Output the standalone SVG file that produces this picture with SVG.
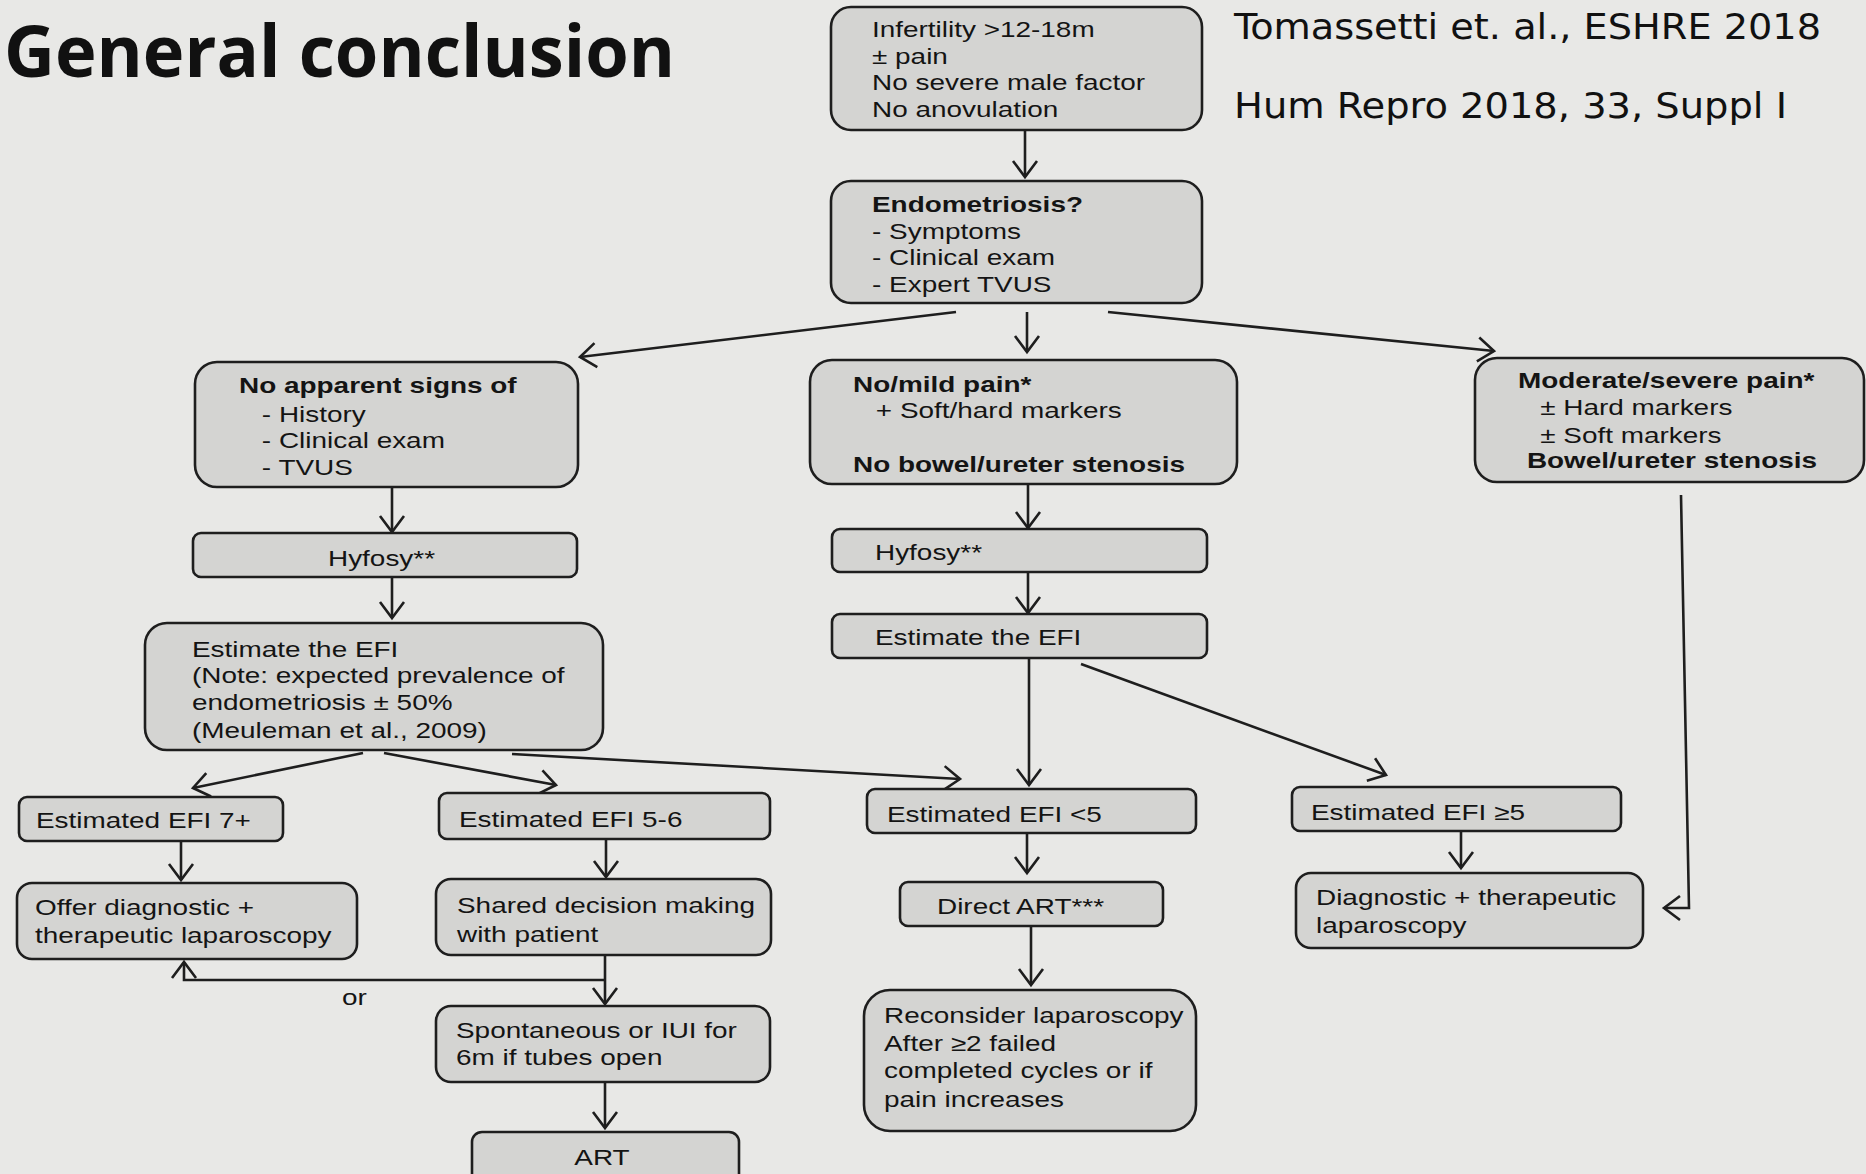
<svg xmlns="http://www.w3.org/2000/svg" width="1866" height="1174" viewBox="0 0 1866 1174">
<style>
.bg{fill:#e8e8e6}
.box{fill:#d4d4d2;stroke:#1e1e1e;stroke-width:2.6}
.t{font-family:"Liberation Sans",Arial,sans-serif;font-size:22px;fill:#141414}
.b{font-weight:bold}
.cn{fill:none;stroke:#1e1e1e;stroke-width:2.6}
.title{font-family:"Open Sans","Liberation Sans",sans-serif;font-weight:bold;font-size:72px;fill:#111}
.cite{font-family:"DejaVu Sans Condensed","DejaVu Sans",sans-serif;font-size:36px;fill:#111}
</style>
<defs>
<marker id="ah" markerUnits="userSpaceOnUse" viewBox="-3 -3 22 30" markerWidth="22" markerHeight="30" refX="16" refY="12" orient="auto" overflow="visible">
<path d="M0,0 L16,12 L0,24" fill="none" stroke="#1e1e1e" stroke-width="2.6" stroke-linejoin="miter"/>
</marker>
</defs>
<rect class="bg" x="0" y="0" width="1866" height="1174"/>

<text class="title" x="4" y="77" textLength="671" lengthAdjust="spacingAndGlyphs">General conclusion</text>
<text class="cite" x="1234" y="39" textLength="587" lengthAdjust="spacingAndGlyphs">Tomassetti et. al., ESHRE 2018</text>
<text class="cite" x="1234" y="118" textLength="553" lengthAdjust="spacingAndGlyphs">Hum Repro 2018, 33, Suppl I</text>

<g id="connectors">
<path class="cn" d="M1025,131 L1025,177" marker-end="url(#ah)"/>
<path class="cn" d="M956,312 L580,357" marker-end="url(#ah)"/>
<path class="cn" d="M1027,312 L1027,352" marker-end="url(#ah)"/>
<path class="cn" d="M1108,312 L1494,351" marker-end="url(#ah)"/>
<path class="cn" d="M392,487 L392,532" marker-end="url(#ah)"/>
<path class="cn" d="M392,577 L392,618" marker-end="url(#ah)"/>
<path class="cn" d="M1028,484 L1028,528" marker-end="url(#ah)"/>
<path class="cn" d="M1028,572 L1028,613" marker-end="url(#ah)"/>
<path class="cn" d="M1029,658 L1029,785" marker-end="url(#ah)"/>
<path class="cn" d="M1081,664 L1386,775" marker-end="url(#ah)"/>
<path class="cn" d="M363,753 L193,788" marker-end="url(#ah)"/>
<path class="cn" d="M384,753 L556,785" marker-end="url(#ah)"/>
<path class="cn" d="M512,754 L960,779" marker-end="url(#ah)"/>
<path class="cn" d="M181,841 L181,880" marker-end="url(#ah)"/>
<path class="cn" d="M606,839 L606,877" marker-end="url(#ah)"/>
<path class="cn" d="M605,955 L605,1004" marker-end="url(#ah)"/>
<path class="cn" d="M605,980 L184,980 L184,962" marker-end="url(#ah)"/>
<path class="cn" d="M605,1082 L605,1128" marker-end="url(#ah)"/>
<path class="cn" d="M1027,833 L1027,873" marker-end="url(#ah)"/>
<path class="cn" d="M1031,926 L1031,985" marker-end="url(#ah)"/>
<path class="cn" d="M1461,831 L1461,868" marker-end="url(#ah)"/>
<path class="cn" d="M1681,495 L1689,908 L1664,908" marker-end="url(#ah)"/>
<text class="t" transform="translate(342,1005) scale(1.27,1)">or</text>
</g>

<g id="n-infertility">
<rect class="box" x="831" y="7" width="371" height="123" rx="20"/>
<text class="t" transform="translate(872,37) scale(1.27,1)"><tspan x="0" y="0">Infertility &gt;12-18m</tspan><tspan x="0" y="27">± pain</tspan><tspan x="0" y="53">No severe male factor</tspan><tspan x="0" y="80">No anovulation</tspan></text>
</g>

<g id="n-endometriosis">
<rect class="box" x="831" y="181" width="371" height="122" rx="20"/>
<text class="t" transform="translate(872,212) scale(1.27,1)"><tspan x="0" y="0" class="b">Endometriosis?</tspan><tspan x="0" y="27">- Symptoms</tspan><tspan x="0" y="53">- Clinical exam</tspan><tspan x="0" y="80">- Expert TVUS</tspan></text>
</g>

<g id="n-noapparent">
<rect class="box" x="195" y="362" width="383" height="125" rx="22"/>
<text class="t" transform="translate(239,393) scale(1.27,1)"><tspan x="0" y="0" class="b">No apparent signs of</tspan><tspan x="18" y="29">- History</tspan><tspan x="18" y="55">- Clinical exam</tspan><tspan x="18" y="82">- TVUS</tspan></text>
</g>

<g id="n-nomild">
<rect class="box" x="810" y="360" width="427" height="124" rx="22"/>
<text class="t" transform="translate(853,392) scale(1.27,1)"><tspan x="0" y="0" class="b">No/mild pain*</tspan><tspan x="18" y="26">+ Soft/hard markers</tspan><tspan x="0" y="80" class="b">No bowel/ureter stenosis</tspan></text>
</g>

<g id="n-moderate">
<rect class="box" x="1475" y="358" width="389" height="124" rx="22"/>
<text class="t" transform="translate(1518,388) scale(1.27,1)"><tspan x="0" y="0" class="b">Moderate/severe pain*</tspan><tspan x="17.5" y="27">± Hard markers</tspan><tspan x="17.5" y="55">± Soft markers</tspan><tspan x="7" y="80" class="b">Bowel/ureter stenosis</tspan></text>
</g>

<g id="n-hyfosy-left">
<rect class="box" x="193" y="533" width="384" height="44" rx="8"/>
<text class="t" transform="translate(328,566) scale(1.27,1)">Hyfosy**</text>
</g>

<g id="n-hyfosy-mid">
<rect class="box" x="832" y="529" width="375" height="43" rx="8"/>
<text class="t" transform="translate(875,560) scale(1.27,1)">Hyfosy**</text>
</g>

<g id="n-estimate-left">
<rect class="box" x="145" y="623" width="458" height="127" rx="22"/>
<text class="t" transform="translate(192,657) scale(1.27,1)"><tspan x="0" y="0">Estimate the EFI</tspan><tspan x="0" y="26">(Note: expected prevalence of</tspan><tspan x="0" y="53">endometriosis ± 50%</tspan><tspan x="0" y="81">(Meuleman et al., 2009)</tspan></text>
</g>

<g id="n-estimate-mid">
<rect class="box" x="832" y="614" width="375" height="44" rx="8"/>
<text class="t" transform="translate(875,645) scale(1.27,1)">Estimate the EFI</text>
</g>

<g id="n-efi7">
<rect class="box" x="19" y="797" width="264" height="44" rx="8"/>
<text class="t" transform="translate(36,828) scale(1.27,1)">Estimated EFI 7+</text>
</g>

<g id="n-efi56">
<rect class="box" x="439" y="793" width="331" height="46" rx="8"/>
<text class="t" transform="translate(459,827) scale(1.27,1)">Estimated EFI 5-6</text>
</g>

<g id="n-efi-lt5">
<rect class="box" x="867" y="789" width="329" height="44" rx="8"/>
<text class="t" transform="translate(887,822) scale(1.27,1)">Estimated EFI &lt;5</text>
</g>

<g id="n-efi-ge5">
<rect class="box" x="1292" y="787" width="329" height="44" rx="8"/>
<text class="t" transform="translate(1311,820) scale(1.27,1)">Estimated EFI ≥5</text>
</g>

<g id="n-offer">
<rect class="box" x="17" y="883" width="340" height="76" rx="15"/>
<text class="t" transform="translate(35,915) scale(1.27,1)"><tspan x="0" y="0">Offer diagnostic +</tspan><tspan x="0" y="28">therapeutic laparoscopy</tspan></text>
</g>

<g id="n-shared">
<rect class="box" x="436" y="879" width="335" height="76" rx="15"/>
<text class="t" transform="translate(457,913) scale(1.27,1)"><tspan x="0" y="0">Shared decision making</tspan><tspan x="0" y="29">with patient</tspan></text>
</g>

<g id="n-spontaneous">
<rect class="box" x="436" y="1006" width="334" height="76" rx="15"/>
<text class="t" transform="translate(456,1038) scale(1.27,1)"><tspan x="0" y="0">Spontaneous or IUI for</tspan><tspan x="0" y="27">6m if tubes open</tspan></text>
</g>

<g id="n-art">
<rect class="box" x="472" y="1132" width="267" height="70" rx="10"/>
<text class="t" text-anchor="middle" transform="translate(602,1165) scale(1.27,1)">ART</text>
</g>

<g id="n-direct-art">
<rect class="box" x="900" y="882" width="263" height="44" rx="8"/>
<text class="t" transform="translate(937,914) scale(1.27,1)">Direct ART***</text>
</g>

<g id="n-reconsider">
<rect class="box" x="864" y="990" width="332" height="141" rx="26"/>
<text class="t" transform="translate(884,1023) scale(1.27,1)"><tspan x="0" y="0">Reconsider laparoscopy</tspan><tspan x="0" y="28">After ≥2 failed</tspan><tspan x="0" y="55">completed cycles or if</tspan><tspan x="0" y="84">pain increases</tspan></text>
</g>

<g id="n-diag">
<rect class="box" x="1296" y="873" width="347" height="75" rx="15"/>
<text class="t" transform="translate(1316,905) scale(1.27,1)"><tspan x="0" y="0">Diagnostic + therapeutic</tspan><tspan x="0" y="28">laparoscopy</tspan></text>
</g>
</svg>
